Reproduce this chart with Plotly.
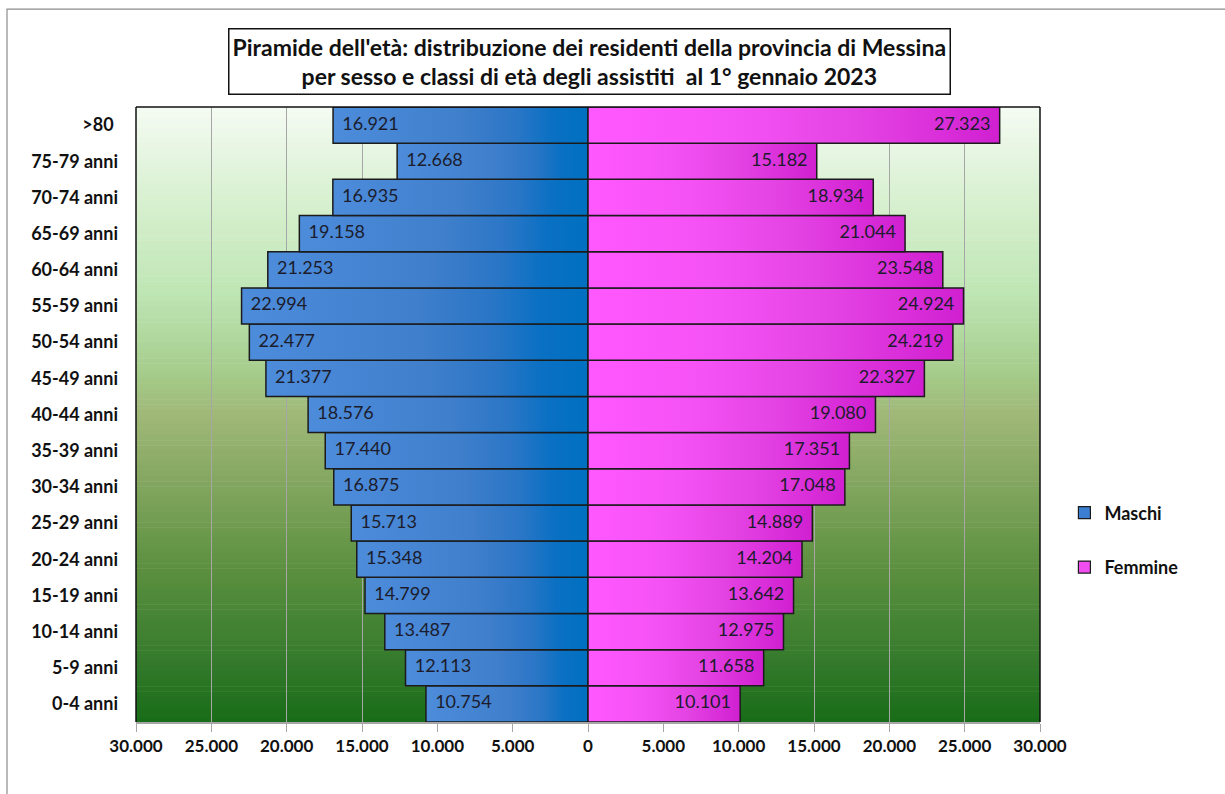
import plotly.graph_objects as go

# Age classes, bottom to top
age_classes = ["0-4 anni", "5-9 anni", "10-14 anni", "15-19 anni", "20-24 anni",
               "25-29 anni", "30-34 anni", "35-39 anni", "40-44 anni", "45-49 anni",
               "50-54 anni", "55-59 anni", "60-64 anni", "65-69 anni", "70-74 anni",
               "75-79 anni", ">80 "]

maschi = [10754, 12113, 13487, 14799, 15348, 15713, 16875, 17440, 18576, 21377,
          22477, 22994, 21253, 19158, 16935, 12668, 16921]

femmine = [10101, 11658, 12975, 13642, 14204, 14889, 17048, 17351, 19080, 22327,
           24219, 24924, 23548, 21044, 18934, 15182, 27323]

tick_values = [-30000, -25000, -20000, -15000, -10000, -5000, 0,
               5000, 10000, 15000, 20000, 25000, 30000]


def it_fmt(v):
    return f"{abs(v):,}".replace(",", ".")


FONT = "Lato"
EDGE = dict(color="#1b1b1b", width=1.5)
NBSP = "\u00a0"

# Horizontal gradients (left -> right along x)
blue_scale = [[0.0, "#4c8cdb"], [0.5, "#407fcb"], [0.72, "#2a76c6"],
              [0.86, "#0a70c3"], [1.0, "#0070c0"]]
pink_scale = [[0.0, "#ff58ff"], [0.35, "#f552f5"], [0.65, "#e444e4"],
              [0.88, "#d82cd8"], [1.0, "#d020d0"]]

fig = go.Figure()

half = 0.5
for i, (m, f) in enumerate(zip(maschi, femmine)):
    fig.add_trace(go.Scatter(
        x=[0, -m, -m, 0, 0], y=[i - half, i - half, i + half, i + half, i - half],
        mode="lines", fill="toself", line=EDGE,
        fillgradient=dict(type="horizontal", colorscale=blue_scale),
        showlegend=False, hoverinfo="skip",
    ))
    fig.add_trace(go.Scatter(
        x=[0, f, f, 0, 0], y=[i - half, i - half, i + half, i + half, i - half],
        mode="lines", fill="toself", line=EDGE,
        fillgradient=dict(type="horizontal", colorscale=pink_scale),
        showlegend=False, hoverinfo="skip",
    ))

ypos = list(range(len(age_classes)))

# Value labels just inside the outer end of each bar
fig.add_trace(go.Scatter(
    x=[-v for v in maschi], y=ypos, mode="text",
    text=[NBSP * 2 + it_fmt(v) for v in maschi], textposition="middle right",
    textfont=dict(family=FONT, size=18, color="#1c1c2c"),
    showlegend=False, hoverinfo="skip",
))
fig.add_trace(go.Scatter(
    x=femmine, y=ypos, mode="text",
    text=[it_fmt(v) + NBSP * 2 for v in femmine], textposition="middle left",
    textfont=dict(family=FONT, size=18, color="#1c1c2c"),
    showlegend=False, hoverinfo="skip",
))

# Legend entries
fig.add_trace(go.Bar(x=[None], y=[None], name="Maschi", legendgroup="m",
                     marker=dict(color="#3c7fd2", line=dict(color="#1b1b1b", width=1.2))))
fig.add_trace(go.Bar(x=[None], y=[None], name="Femmine", legendgroup="f",
                     marker=dict(color="#f04ef0", line=dict(color="#1b1b1b", width=1.2))))

# Vertical green gradient behind the plot area
stops = [(0.00, (245, 251, 243)), (0.15, (216, 240, 208)), (0.30, (191, 230, 181)),
         (0.43, (166, 205, 140)), (0.50, (160, 184, 120)), (0.60, (134, 168, 98)),
         (0.75, (92, 144, 64)), (0.90, (53, 122, 44)), (1.00, (24, 108, 24))]


def grad_color(f):
    for (f0, c0), (f1, c1) in zip(stops[:-1], stops[1:]):
        if f0 <= f <= f1:
            t = (f - f0) / (f1 - f0)
            return "rgb(%d,%d,%d)" % tuple(round(a + (b - a) * t) for a, b in zip(c0, c1))
    return "rgb(%d,%d,%d)" % stops[-1][1]


shapes = []
n = 120
for i in range(n):
    f = (i + 0.5) / n
    shapes.append(dict(type="rect", xref="paper", yref="paper", layer="below",
                       x0=0, x1=1, y0=1 - (i + 1) / n - 0.001, y1=1 - i / n,
                       fillcolor=grad_color(f), line=dict(width=0)))

# Plot-area frame (left, top, right)
for (x0, y0, x1, y1) in [(0, 0, 0, 1), (0, 1, 1, 1), (1, 0, 1, 1)]:
    shapes.append(dict(type="line", xref="paper", yref="paper", layer="above",
                       x0=x0, y0=y0, x1=x1, y1=y1, line=dict(color="#111111", width=1.5)))

# Outer chart border
shapes.append(dict(type="rect", xref="paper", yref="paper", layer="above",
                   x0=-0.1427, x1=1.25, y0=-0.2, y1=1.159,
                   line=dict(color="#8c8c8c", width=1.2), fillcolor="rgba(0,0,0,0)"))

fig.update_layout(
    width=1225, height=794,
    margin=dict(l=136, r=185, t=107, b=72),
    paper_bgcolor="white", plot_bgcolor="rgba(0,0,0,0)",
    shapes=shapes,
    font=dict(family=FONT, color="#111111"),
    xaxis=dict(range=[-30000, 30000], tickvals=tick_values,
               ticktext=[it_fmt(v) for v in tick_values],
               tickfont=dict(family=FONT, size=17, weight="bold"),
               showgrid=True, gridcolor="#a6a6a6", gridwidth=1,
               zeroline=False, showline=True, linecolor="#a6a6a6", linewidth=1.5,
               ticks="outside", ticklen=8, tickcolor="#a6a6a6", fixedrange=True),
    yaxis=dict(range=[-0.5, len(age_classes) - 0.5], tickvals=ypos, ticktext=age_classes,
               tickfont=dict(family=FONT, size=18, weight="bold"),
               ticklabelstandoff=17, showgrid=False, zeroline=False, fixedrange=True),
    legend=dict(x=1.027, y=0.296, xanchor="left", yanchor="middle",
                font=dict(family=FONT, size=18, weight="bold"),
                tracegroupgap=28, traceorder="grouped", bgcolor="rgba(0,0,0,0)"),
    annotations=[dict(
        xref="paper", yref="paper", x=0.502, y=1.074, xanchor="center", yanchor="middle",
        text="Piramide dell'età: distribuzione dei residenti della provincia di Messina<br>"
             "per sesso e classi di età degli assistiti  al 1° gennaio 2023",
        showarrow=False, align="center",
        font=dict(family=FONT, size=23, weight="bold", color="#111111"),
        bordercolor="#111111", borderwidth=1.5, borderpad=3, bgcolor="white",
    )],
)

fig.write_html("out.html")
